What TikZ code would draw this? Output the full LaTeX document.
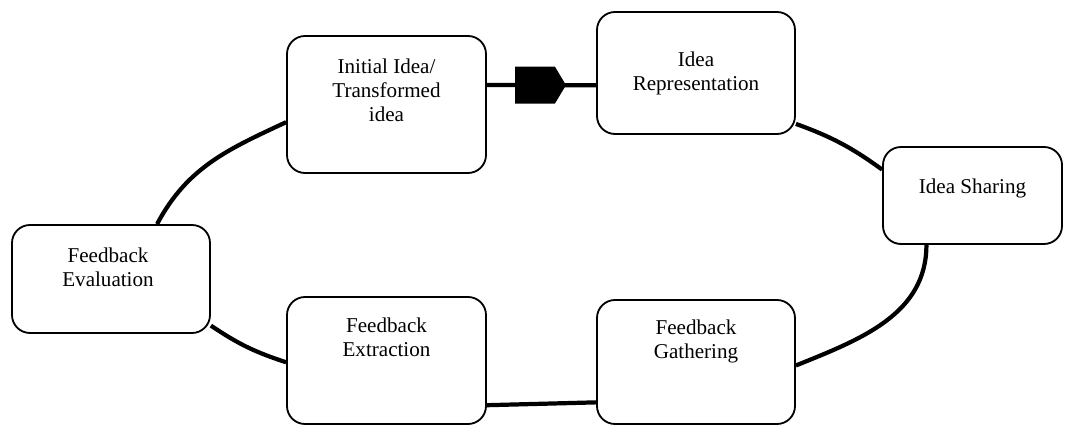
\documentclass[tikz,border=0pt]{standalone}
\usepackage{fontspec}
\setmainfont{Liberation Serif}
\usetikzlibrary{shapes.symbols}

\begin{document}
\begin{tikzpicture}[
stage/.style={draw, rectangle, rounded corners=0.45cm, line width=1.3pt, inner sep=0pt},
stagetext/.style={anchor=north, inner sep=0pt, align=center, font=\fontsize{15pt}{17pt}\selectfont},
link/.style={line width=3pt},
flag/.style={signal, signal to=east, signal pointer angle=118, fill=black, inner sep=0pt, minimum width=1.275cm, minimum height=0.925cm}
]
\useasboundingbox (0,0) rectangle (26.775,10.625);

\node[stage, minimum width=4.975cm, minimum height=3.425cm] (init) at (9.6625,8.0125) {};
\node[stage, minimum width=4.95cm, minimum height=3.05cm] (rep) at (17.4,8.8) {};
\node[stage, minimum width=4.475cm, minimum height=2.425cm] (share) at (24.3125,5.7375) {};
\node[stage, minimum width=4.95cm, minimum height=2.7cm] (eval) at (2.775,3.65) {};
\node[stage, minimum width=4.975cm, minimum height=3.175cm] (extr) at (9.6625,1.6125) {};
\node[stage, minimum width=4.95cm, minimum height=3.1cm] (gath) at (17.4,1.575) {};

\node[stagetext] (initT) at (9.6625,9.15) {Initial Idea/\\Transformed\\idea};
\node[stagetext] (repT) at (17.4,9.325) {Idea\\Representation};
\node[stagetext] (shareT) at (24.3125,6.15) {Idea Sharing};
\node[stagetext] (evalT) at (2.7,4.425) {Feedback\\Evaluation};
\node[stagetext] (extrT) at (9.6625,2.675) {Feedback\\Extraction};
\node[stagetext] (gathT) at (17.4,2.625) {Feedback\\Gathering};

\draw[link] (init.11) -- node[flag, pos=0.44] (flag) {} (rep.187);
\draw[link] (rep.-27) to[bend left=8] (share.164);
\draw[link] (share.227) to[out=-90, in=22] (gath.-2);
\draw[link] (gath.202) -- (extr.-24);
\draw[link] (extr.181) to[bend left=8] (eval.-25);
\draw[link] (eval.50) to[out=62, in=205] (init.190);
\end{tikzpicture}
\end{document}
